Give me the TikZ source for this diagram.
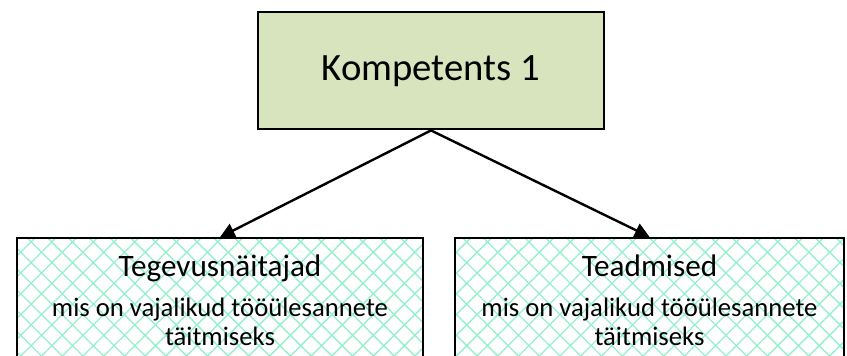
\documentclass[tikz,border=0pt]{standalone}
\usepackage{fontspec}
\setmainfont{Carlito}
\usetikzlibrary{arrows.meta, patterns.meta}
\definecolor{kompgreen}{RGB}{215,228,189}
\definecolor{hatchgreen}{RGB}{150,240,205}
\begin{document}
\begin{tikzpicture}[x=0.75pt, y=-0.75pt,
    box/.style={draw=black, line width=1.5pt, rectangle, align=center, inner sep=0pt},
    hatched/.style={box, pattern={Hatch[angle=45, distance=11pt, line width=1pt]}, pattern color=hatchgreen,
        minimum height=94pt, font=\fontsize{20}{22}\selectfont},
    link/.style={line width=1.8pt, -{Triangle[length=11pt, width=11pt]}}]
    \useasboundingbox (0,0) rectangle (847,356);
    \node[box, fill=kompgreen, minimum width=259.5pt, minimum height=88pt, font=\fontsize{29}{34}\selectfont] (komp) at (431,70.75) {Kompetents 1};
    \node[hatched, minimum width=304.5pt] (tegevus) at (220,300.5) {{\fontsize{23.4}{28}\selectfont Tegevusnäitajad}\\[8pt]mis on vajalikud tööülesannete\\täitmiseks};
    \node[hatched, minimum width=291.75pt] (teadmised) at (649.5,300.5) {{\fontsize{23.4}{28}\selectfont Teadmised}\\[8pt]mis on vajalikud tööülesannete\\täitmiseks};
    \draw[link] (komp.south) -- (tegevus.north);
    \draw[link] (komp.south) -- (teadmised.north);
\end{tikzpicture}
\end{document}
